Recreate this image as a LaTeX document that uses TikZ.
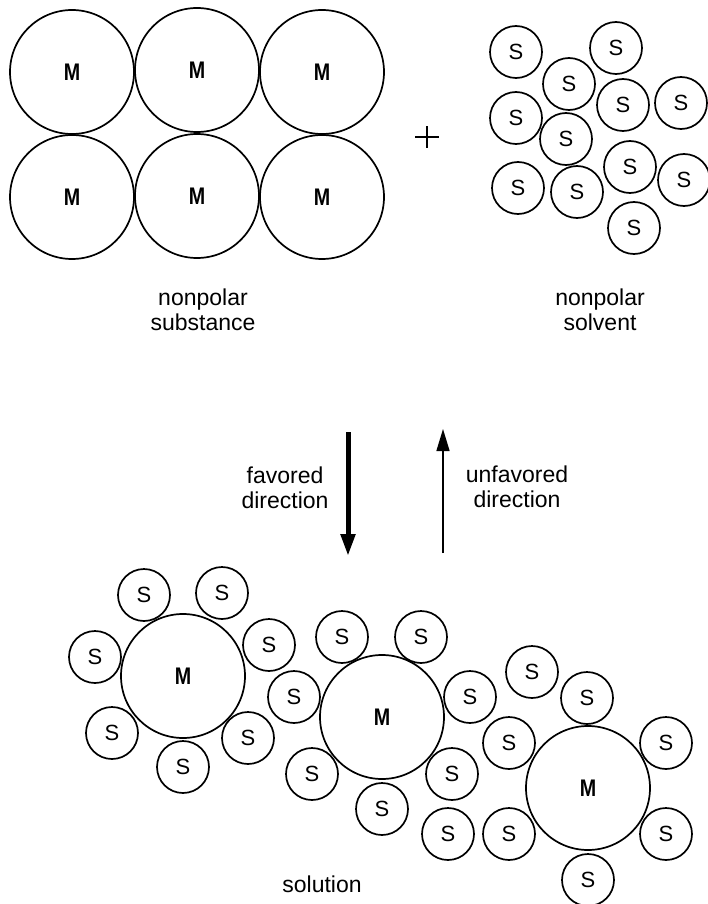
\documentclass[tikz,border=0pt]{standalone}
\usepackage{fontspec}
\usepackage{graphicx}
\setmainfont{Liberation Sans}
\usetikzlibrary{arrows.meta}
\newcommand{\narrowm}{\scalebox{0.82}[1]{M}}
\begin{document}
\begin{tikzpicture}[x=1pt,y=-1pt,
  bigm/.style={circle,draw,line width=1.7pt,inner sep=0pt,minimum size=124pt,font=\fontsize{24}{24}\selectfont\bfseries},
  smalls/.style={circle,draw,line width=1.7pt,inner sep=0pt,minimum size=52pt,font=\fontsize{22}{22}\selectfont},
  lbl/.style={align=center,inner sep=0pt,font=\fontsize{23}{25}\selectfont}]
\useasboundingbox (0,0) rectangle (707,904);
% nonpolar substance
\node[bigm] (t1) at (72,72) {\narrowm};
\node[bigm] (t2) at (197,70) {\narrowm};
\node[bigm] (t3) at (322,72) {\narrowm};
\node[bigm] (t4) at (72,197) {\narrowm};
\node[bigm] (t5) at (197,196) {\narrowm};
\node[bigm] (t6) at (322,197) {\narrowm};
% plus
\coordinate (pc) at (427,137);
\draw[line width=1.2pt] ([xshift=-12pt]pc) -- ([xshift=12pt]pc);
\draw[line width=1.2pt] ([yshift=-11pt]pc) -- ([yshift=11pt]pc);
% solvent
\node[smalls] (s1) at (516,52) {S};
\node[smalls] (s2) at (616,48) {S};
\node[smalls] (s3) at (569,84) {S};
\node[smalls] (s4) at (623,105) {S};
\node[smalls] (s5) at (681,103) {S};
\node[smalls] (s6) at (516,118) {S};
\node[smalls] (s7) at (566,139) {S};
\node[smalls] (s8) at (518,188) {S};
\node[smalls] (s9) at (577,192) {S};
\node[smalls] (s10) at (630,167) {S};
\node[smalls] (s11) at (684,180) {S};
\node[smalls] (s12) at (634,228) {S};
% labels
\node[lbl] (lsub) at (203,310) {nonpolar\\substance};
\node[lbl] (lsol) at (600,310) {nonpolar\\solvent};
% arrows
\coordinate (fa1) at (348,432);
\coordinate (fa2) at (348,556);
\coordinate (ua1) at (443,553);
\coordinate (ua2) at (443,429);
\draw[line width=5pt,-{Triangle[width=14pt,length=22pt]}] (fa1) -- (fa2);
\draw[line width=1.5pt,-{Triangle[width=13pt,length=22pt]}] (ua1) -- (ua2);
\node[lbl] (lfav) at (285,488) {favored\\direction};
\node[lbl] (lunf) at (517,487) {unfavored\\direction};
% solution cluster 1
\node[bigm] (m1) at (183,676) {\narrowm};
\node[smalls] (a1) at (144,595) {S};
\node[smalls] (a2) at (222,593) {S};
\node[smalls] (a3) at (95,657) {S};
\node[smalls] (a4) at (269,645) {S};
\node[smalls] (a5) at (112,733) {S};
\node[smalls] (a6) at (248,738) {S};
\node[smalls] (a7) at (183,767) {S};
% cluster 2
\node[bigm] (m2) at (382,717) {\narrowm};
\node[smalls] (b1) at (342,637) {S};
\node[smalls] (b2) at (421,637) {S};
\node[smalls] (b3) at (294,697) {S};
\node[smalls] (b4) at (470,697) {S};
\node[smalls] (b5) at (312,774) {S};
\node[smalls] (b6) at (452,774) {S};
\node[smalls] (b7) at (382,809) {S};
% cluster 3
\node[bigm] (m3) at (588,788) {\narrowm};
\node[smalls] (c1) at (532,672) {S};
\node[smalls] (c2) at (587,698) {S};
\node[smalls] (c3) at (509,743) {S};
\node[smalls] (c4) at (666,743) {S};
\node[smalls] (c5) at (448,834) {S};
\node[smalls] (c6) at (509,834) {S};
\node[smalls] (c7) at (666,834) {S};
\node[smalls] (c8) at (588,880) {S};
\node[lbl] (lsoln) at (322,884) {solution};
\end{tikzpicture}
\end{document}
